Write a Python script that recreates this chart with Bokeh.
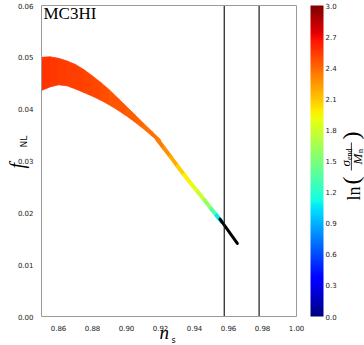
import numpy as np
from bokeh.plotting import figure
from bokeh.models import (ColumnDataSource, LinearColorMapper, ColorBar, FixedTicker,
                          PrintfTickFormatter, Label, Range1d, BoxAnnotation, LinearAxis)
from bokeh.embed import file_html
from bokeh.resources import INLINE

# ---------------- data ----------------
band_ns = [0.850, 0.855, 0.860, 0.865, 0.870, 0.875, 0.880, 0.885, 0.890,
           0.895, 0.900, 0.905, 0.910, 0.915, 0.920]
band_upper = [0.0500, 0.0501, 0.0498, 0.0493, 0.0486, 0.0476, 0.0464, 0.0451,
              0.0437, 0.0421, 0.0405, 0.0389, 0.0373, 0.0357, 0.0341]
band_lower = [0.0436, 0.0443, 0.0447, 0.0445, 0.0439, 0.0432, 0.0425, 0.0417,
              0.0408, 0.0398, 0.0387, 0.0375, 0.0362, 0.0348, 0.0334]
band_ln = [2.56, 2.55, 2.54, 2.53, 2.52, 2.51, 2.50, 2.48, 2.46, 2.45, 2.43,
           2.41, 2.39, 2.37]

tail_ns = [0.918, 0.922, 0.926, 0.930, 0.934, 0.938, 0.942, 0.946, 0.950,
           0.953, 0.956]
tail_fnl = [0.0342, 0.0325, 0.0308, 0.0290, 0.0273, 0.0256, 0.0240, 0.0224,
            0.0207, 0.0195, 0.0183]
tail_ln = [2.36, 2.31, 2.23, 2.13, 2.00, 1.92, 1.84, 1.70, 1.48, 1.22, 0.90]

black_ns = [0.955, 0.9652]
black_fnl = [0.0188, 0.0141]

planck_ns = [0.9575, 0.9780]

x_lim = [0.85, 1.00]
y_lim = [0.00, 0.06]
x_ticks = [0.86, 0.88, 0.90, 0.92, 0.94, 0.96, 0.98, 1.00]
y_ticks = [0.00, 0.01, 0.02, 0.03, 0.04, 0.05, 0.06]
cbar_ticks = [0.0, 0.3, 0.6, 0.9, 1.2, 1.5, 1.8, 2.1, 2.4, 2.7, 3.0]
cbar_lim = [0.0, 3.0]


# ---------------- jet palette ----------------
def jet(n=256):
    t = np.linspace(0, 1, n)
    r = np.interp(t, [0, 0.35, 0.66, 0.89, 1], [0, 0, 1, 1, 0.5])
    g = np.interp(t, [0, 0.125, 0.375, 0.64, 0.91, 1], [0, 0, 1, 1, 0, 0])
    b = np.interp(t, [0, 0.11, 0.34, 0.65, 1], [0.5, 1, 1, 0, 0])
    return ['#%02x%02x%02x' % (int(round(255 * a)), int(round(255 * bb)), int(round(255 * c)))
            for a, bb, c in zip(r, g, b)]


mapper = LinearColorMapper(palette=jet(), low=cbar_lim[0], high=cbar_lim[1])

# ---------------- layout (pixels) ----------------
W, H = 364, 345
AX_L, AX_R, AX_T, AX_B = 41, 296, 5, 316      # plot box in canvas pixels
sx = (AX_R - AX_L) / (x_lim[1] - x_lim[0])
sy = (AX_B - AX_T) / (y_lim[1] - y_lim[0])
x_range = Range1d(x_lim[0] - AX_L / sx, x_lim[1] + (W - AX_R) / sx)
y_range = Range1d(y_lim[0] - (H - AX_B) / sy, y_lim[1] + AX_T / sy)

p = figure(width=W, height=H, x_range=x_range, y_range=y_range,
           output_backend="svg", toolbar_location=None,
           x_axis_location=None, y_axis_location=None, min_border=0)
p.grid.visible = False
p.outline_line_color = None
p.background_fill_color = "white"
p.border_fill_color = "white"

# band (left, wide part)
xs, ys = [], []
for i in range(len(band_ns) - 1):
    xs.append([band_ns[i], band_ns[i + 1], band_ns[i + 1], band_ns[i]])
    ys.append([band_upper[i], band_upper[i + 1], band_lower[i + 1], band_lower[i]])
band_src = ColumnDataSource(dict(xs=xs, ys=ys, v=band_ln))
p.patches("xs", "ys", source=band_src,
          fill_color={"field": "v", "transform": mapper},
          line_color={"field": "v", "transform": mapper}, line_width=0.8)

# narrow tail
tail_src = ColumnDataSource(dict(x0=tail_ns[:-1], y0=tail_fnl[:-1], x1=tail_ns[1:], y1=tail_fnl[1:],
                                 v=[(a + b) / 2 for a, b in zip(tail_ln[:-1], tail_ln[1:])]))
p.segment("x0", "y0", "x1", "y1", source=tail_src,
          line_color={"field": "v", "transform": mapper}, line_width=4, line_cap="round")

# black segment
p.line(black_ns, black_fnl, line_color="black", line_width=3, line_cap="round")

# vertical lines (span the plot box only)
p.segment(x0=planck_ns, y0=[y_lim[0]] * len(planck_ns), x1=planck_ns,
          y1=[y_lim[1]] * len(planck_ns), line_color="#1a1a1a", line_width=1.2)

# axes pinned to the plot box
spine = "#9a9a9a"
xaxis = LinearAxis(fixed_location=y_lim[0], bounds=tuple(x_lim),
                   ticker=FixedTicker(ticks=x_ticks), formatter=PrintfTickFormatter(format="%.2f"))
yaxis = LinearAxis(fixed_location=x_lim[0], bounds=tuple(y_lim),
                   ticker=FixedTicker(ticks=y_ticks), formatter=PrintfTickFormatter(format="%.2f"))
top_ax = LinearAxis(fixed_location=y_lim[1], bounds=tuple(x_lim), ticker=FixedTicker(ticks=[]))
right_ax = LinearAxis(fixed_location=x_lim[1], bounds=tuple(y_lim), ticker=FixedTicker(ticks=[]))
for ax in (xaxis, yaxis, top_ax, right_ax):
    ax.axis_line_color = spine
    ax.major_tick_line_color = None
    ax.minor_tick_line_color = None
    ax.major_label_text_font = "DejaVu Sans"
    ax.major_label_text_font_size = "7px"
    ax.major_label_text_color = "#222222"
    ax.major_label_standoff = 2
p.add_layout(xaxis, "below")
p.add_layout(yaxis, "left")
p.add_layout(top_ax, "above")
p.add_layout(right_ax, "right")

# colorbar
cb = ColorBar(color_mapper=mapper, ticker=FixedTicker(ticks=cbar_ticks),
              formatter=PrintfTickFormatter(format="%.1f"), width=13, height=AX_B - AX_T,
              padding=0, margin=0, label_standoff=2, location=(310, H - AX_B),
              major_tick_line_color=None, bar_line_color=None,
              major_label_text_font="DejaVu Sans", major_label_text_font_size="7px",
              major_label_text_color="#222222", background_fill_color=None,
              border_line_color=None)
p.add_layout(cb, "center")

serif = "Liberation Serif"
ROT = np.pi / 2


def lab(**kw):
    base = dict(x_units="canvas", y_units="canvas", text_baseline="middle",
                text_align="left", text_color="black")
    base.update(kw)
    p.add_layout(Label(**base))


lab(x=43, y=12.7, text="MC3HI", text_font=serif, text_font_size="17px")
# x label n_s
lab(x=159, y=332, text="n", text_font=serif, text_font_style="italic", text_font_size="19px")
lab(x=171, y=339.5, text="s", text_font="DejaVu Sans", text_font_size="8px")
# y label f_NL
lab(x=16.2, y=168, text="f", text_font=serif, text_font_style="italic",
    text_font_size="20px", angle=ROT)
lab(x=23.0, y=147, text="NL", text_font="DejaVu Sans", text_font_size="9px", angle=ROT)
# colorbar title ln(sigma_end / M_n)
lab(x=353.4, y=200, text="ln", text_font=serif, text_font_size="18px", angle=ROT)
lab(x=350.0, y=184, text="(", text_font=serif, text_font_size="24px", angle=ROT)
lab(x=345.1, y=166, text="σ", text_font=serif, text_font_style="italic",
    text_font_size="13px", angle=ROT)
lab(x=348.8, y=159.5, text="end", text_font=serif, text_font_size="8px", angle=ROT)
p.add_layout(BoxAnnotation(left=350.4, right=351.2, top=142, bottom=170,
                           left_units="canvas", right_units="canvas",
                           top_units="canvas", bottom_units="canvas",
                           fill_color="black", fill_alpha=1.0, line_color=None))
lab(x=356.6, y=164, text="M", text_font=serif, text_font_style="italic",
    text_font_size="13px", angle=ROT)
lab(x=359.5, y=152.5, text="n", text_font=serif, text_font_size="8px", angle=ROT)
lab(x=350.0, y=139, text=")", text_font=serif, text_font_size="24px", angle=ROT)

open("out.html", "w").write(file_html(p, INLINE))
